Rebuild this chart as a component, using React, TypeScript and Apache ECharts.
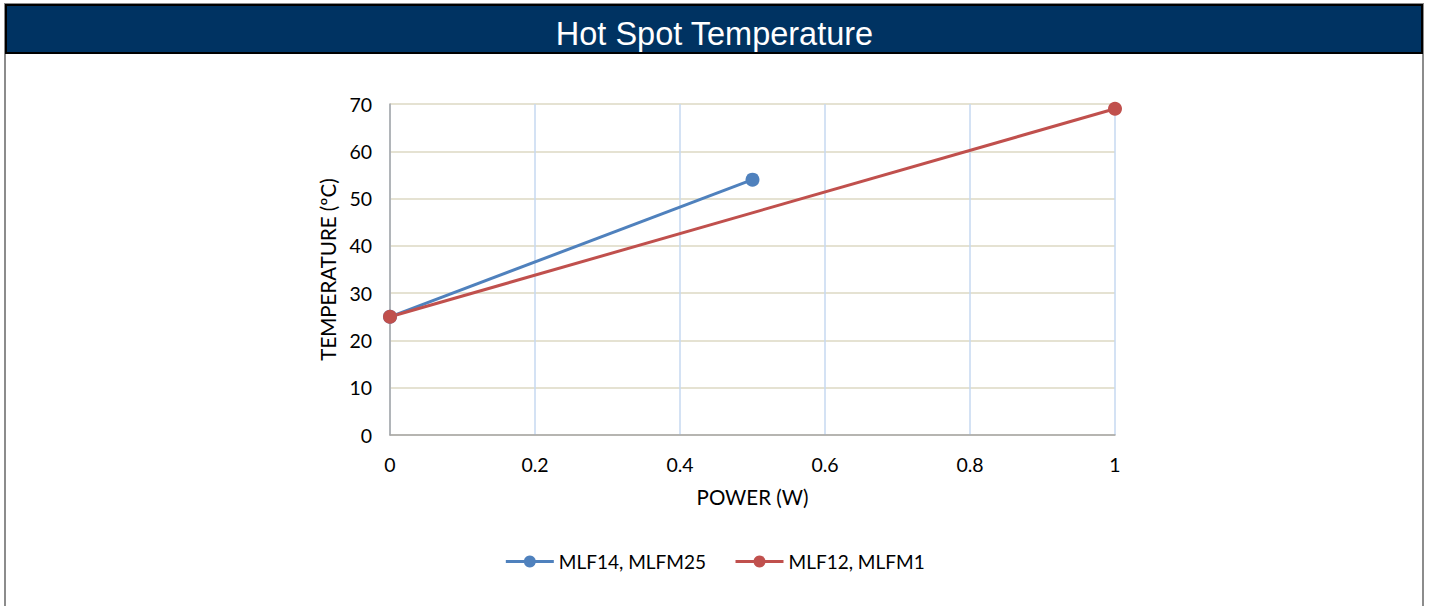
import React, { useEffect, useRef } from "react";
import * as echarts from "echarts";

const titleText = "Hot Spot Temperature";
const xAxisName = "POWER (W)";
const yAxisName = "TEMPERATURE (ºC)";
const seriesNames = ["MLF14, MLFM25", "MLF12, MLFM1"];
const seriesColors = ["#4f81bd", "#c0504d"];
const powerA = [0, 0.5];
const tempA = [25, 54];
const powerB = [0, 1];
const tempB = [25, 69];

const FONT = "Lato";

export default function App() {
  const ref = useRef<HTMLDivElement>(null);
  useEffect(() => {
    if (!ref.current) return;
    const chart = echarts.init(ref.current, null, { renderer: "svg" });
    const dataA = powerA.map((p, i) => [p, tempA[i]]);
    const dataB = powerB.map((p, i) => [p, tempB[i]]);
    chart.setOption({
      animation: false,
      backgroundColor: "#ffffff",
      graphic: [
        {
          type: "rect",
          shape: { x: 5, y: 4, width: 1418, height: 640 },
          style: { fill: "#ffffff", stroke: "#8c8c8c", lineWidth: 2 },
          z: -10,
        },
        {
          type: "rect",
          shape: { x: 6, y: 5, width: 1416, height: 48 },
          style: { fill: "#003362", stroke: "#000000", lineWidth: 2 },
          z: -5,
        },
      ],
      title: {
        text: titleText,
        left: "center",
        top: 12,
        textStyle: {
          color: "#ffffff",
          fontFamily: "Liberation Sans",
          fontWeight: "normal",
          fontSize: 32.5,
        },
      },
      grid: { left: 390, right: 314, top: 104, bottom: 171, containLabel: false },
      legend: {
        bottom: 30,
        left: "center",
        itemWidth: 48,
        itemHeight: 15,
        itemGap: 28,
        lineStyle: { width: 3 },
        textStyle: { fontFamily: FONT, fontSize: 19, color: "#000000" },
        data: seriesNames,
      },
      xAxis: {
        type: "value",
        min: 0,
        max: 1,
        interval: 0.2,
        name: xAxisName,
        nameLocation: "middle",
        nameGap: 51,
        nameTextStyle: { fontFamily: FONT, fontSize: 20.5, color: "#000000" },
        axisLine: { show: true, lineStyle: { color: "#a6a6a6", width: 1.5 } },
        axisTick: { show: false },
        axisLabel: {
          fontFamily: FONT,
          fontSize: 19.5,
          color: "#000000",
          margin: 19,
          formatter: (v: number) => String(Math.round(v * 10) / 10),
        },
        splitLine: { show: true, lineStyle: { color: "#c6d9f1", width: 1.5 } },
      },
      yAxis: {
        type: "value",
        min: 0,
        max: 70,
        interval: 10,
        name: yAxisName,
        nameLocation: "middle",
        nameGap: 49,
        nameTextStyle: { fontFamily: FONT, fontSize: 20.5, color: "#000000" },
        axisLine: { show: true, lineStyle: { color: "#a6a6a6", width: 1.5 } },
        axisTick: { show: false },
        axisLabel: { fontFamily: FONT, fontSize: 19.5, color: "#000000", margin: 18 },
        splitLine: { show: true, lineStyle: { color: "#ddd9c3", width: 1.5 } },
      },
      series: [
        {
          name: seriesNames[0],
          type: "line",
          data: dataA,
          color: seriesColors[0],
          symbol: "circle",
          symbolSize: 14,
          lineStyle: { width: 3 },
        },
        {
          name: seriesNames[1],
          type: "line",
          data: dataB,
          color: seriesColors[1],
          symbol: "circle",
          symbolSize: 14,
          lineStyle: { width: 3 },
        },
      ],
    });
    return () => chart.dispose();
  }, []);
  return (
    <div
      ref={ref}
      style={{ position: "fixed", left: 0, top: 0, width: 1429, height: 606 }}
    />
  );
}
